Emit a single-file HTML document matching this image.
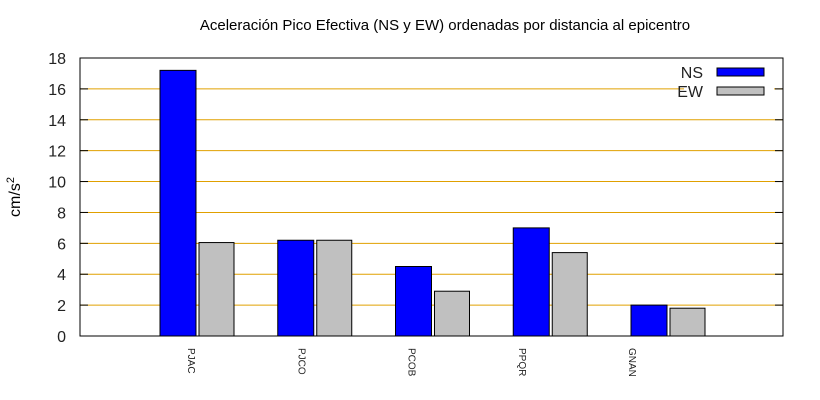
<!DOCTYPE html>
<html><head><meta charset="utf-8"><style>body{margin:0;background:#fff}svg{display:block;font-family:"Liberation Sans",sans-serif}</style></head>
<body>
<svg id="chart" width="820" height="400" xmlns="http://www.w3.org/2000/svg">
<text x="445" y="30" font-size="15" text-anchor="middle">Aceleración Pico Efectiva (NS y EW) ordenadas por distancia al epicentro</text>
<text transform="translate(20,197) rotate(-90)" font-size="16" text-anchor="middle">cm/s<tspan dy="-6" font-size="11">2</tspan></text>
<g id="grid"></g><g id="bars"></g><g id="axes"></g>
</svg>
<script>
const categories=["PJAC","PJCO","PCOB","PPQR","GNAN"];
const nsValues=[17.2,6.2,4.5,7.0,2.0];
const ewValues=[6.05,6.2,2.9,5.4,1.8];
const yTicks=[0,2,4,6,8,10,12,14,16,18];
const L=80,R=783,T=58,B=336,YMAX=18;
const y=v=>B-(B-T)*v/YMAX;
const barX=i=>160+117.75*i;
const labelX=i=>81.75+110.25*(i+1);
const NS="http://www.w3.org/2000/svg";
function mk(tag,attrs,parent){const e=document.createElementNS(NS,tag);for(const k in attrs)e.setAttribute(k,attrs[k]);parent.appendChild(e);return e;}
const grid=document.getElementById('grid'),bars=document.getElementById('bars'),axes=document.getElementById('axes');
yTicks.forEach(t=>{
  if(t>0&&t<YMAX){const g=mk('line',{x1:L,x2:R,y1:y(t),y2:y(t),stroke:'#e0a000','stroke-width':1},grid);
  
  }
  const lb=mk('text',{x:66,y:y(t)+6,'font-size':16,'text-anchor':'end',fill:'#222'},axes);lb.textContent=t;
  
  
  mk('line',{x1:L,x2:L+8,y1:y(t),y2:y(t),stroke:'#000'},axes);
  mk('line',{x1:R-8,x2:R,y1:y(t),y2:y(t),stroke:'#000'},axes);
});
const bg=mk('rect',{x:684,y:60,width:90,height:40,fill:'#fff'},grid);


categories.forEach((c,i)=>{
  const b1=mk('rect',{x:barX(i),y:y(nsValues[i]),width:36,height:B-y(nsValues[i]),fill:'#0000ff',stroke:'#000','stroke-width':1},bars);
  
  
  const b2=mk('rect',{x:barX(i)+39,y:y(ewValues[i]),width:35,height:B-y(ewValues[i]),fill:'#c0c0c0',stroke:'#000','stroke-width':1},bars);
  
  
  const t=mk('text',{transform:`translate(${labelX(i)-4},348) rotate(90)`,'font-size':10,fill:'#222'},axes);t.textContent=c;
  
  
});
const frame=mk('rect',{x:L,y:T,width:R-L,height:B-T,fill:'none',stroke:'#000','stroke-width':1},axes);


[["NS",'#0000ff',72],["EW",'#c0c0c0',91]].forEach(([n,col,yy])=>{
  const t=mk('text',{x:703,y:yy+6,'font-size':16,'text-anchor':'end',fill:'#222'},axes);t.textContent=n;
  
  
  const s=mk('rect',{x:717,y:yy-4,width:47,height:8,fill:col,stroke:'#000'},axes);
  
  
});
</script>
</body></html>
